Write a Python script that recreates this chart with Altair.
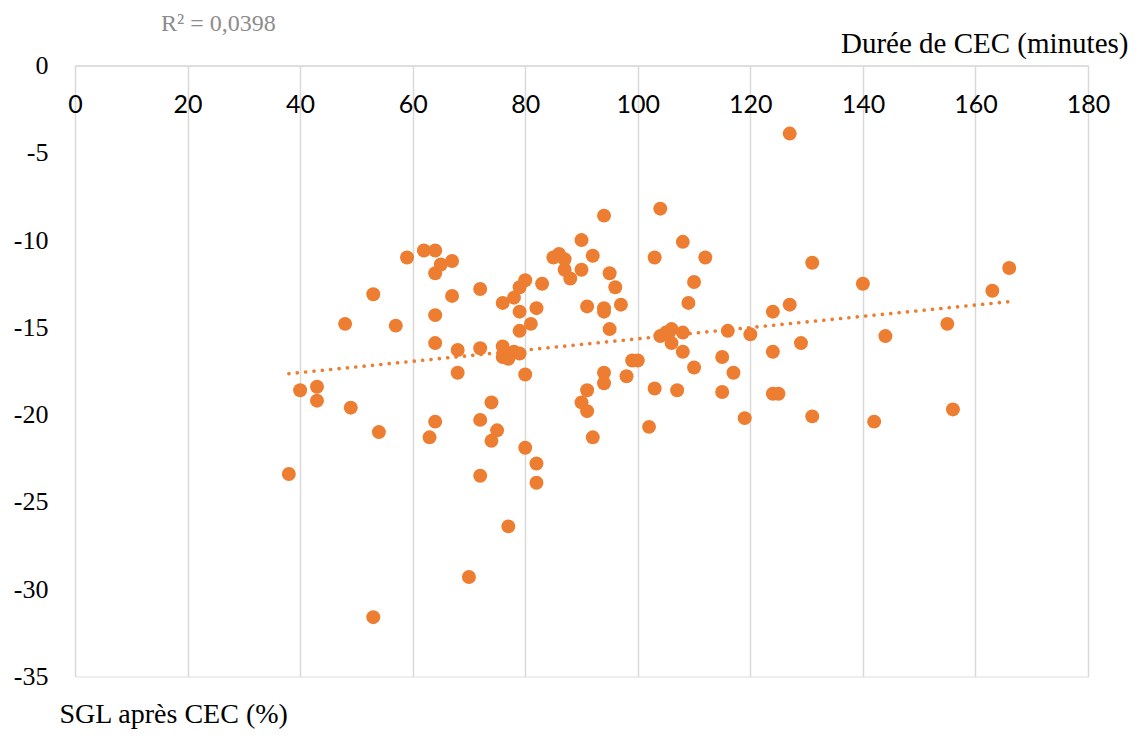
import altair as alt
import pandas as pd

# Durée de CEC (minutes)
duree = [38, 40, 43, 43, 48, 49, 53, 53, 54, 57,
         59, 62, 63, 64, 64, 65, 67, 64, 64, 64,
         67, 68, 68, 70, 72, 72, 72, 72, 74, 74,
         75, 76, 76, 76, 77, 77, 78, 78, 79, 79,
         79, 79, 80, 80, 80, 81, 82, 82, 82, 83,
         85, 86, 87, 87, 88, 90, 90, 90, 91, 91,
         91, 92, 92, 94, 94, 94, 94, 94, 95, 95,
         96, 97, 98, 99, 100, 102, 103, 103, 104, 104,
         105, 106, 106, 107, 108, 108, 108, 109, 110, 110,
         112, 115, 115, 116, 117, 119, 120, 124, 124, 124,
         125, 127, 127, 129, 131, 131, 140, 142, 144, 155,
         156, 163, 166]

# SGL après CEC (%)
sgl = [-23.4, -18.6, -18.4, -19.2, -14.8, -19.6, -13.1, -31.6, -21.0, -14.9,
       -11.0, -10.6, -21.3, -10.6, -11.9, -11.4, -11.2, -14.3, -15.9, -20.4,
       -13.2, -16.3, -17.6, -29.3, -12.8, -16.2, -20.3, -23.5, -19.3, -21.5,
       -20.9, -13.6, -16.1, -16.7, -26.4, -16.8, -13.3, -16.4, -12.7, -14.1,
       -15.2, -16.5, -12.3, -17.7, -21.9, -14.8, -13.9, -22.8, -23.9, -12.5,
       -11.0, -10.8, -11.1, -11.7, -12.2, -10.0, -11.7, -19.3, -13.8, -18.6,
       -19.8, -10.9, -21.3, -8.6, -13.9, -14.1, -17.6, -18.2, -11.9, -15.1,
       -12.7, -13.7, -17.8, -16.9, -16.9, -20.7, -11.0, -18.5, -8.2, -15.5,
       -15.3, -15.9, -15.1, -18.6, -10.1, -15.3, -16.4, -13.6, -12.4, -17.3,
       -11.0, -16.7, -18.7, -15.2, -17.6, -20.2, -15.4, -14.1, -16.4, -18.8,
       -18.8, -3.9, -13.7, -15.9, -11.3, -20.1, -12.5, -20.4, -15.5, -14.8,
       -19.7, -12.9, -11.6]

x_ticks = [0, 20, 40, 60, 80, 100, 120, 140, 160, 180]
y_ticks = [-35, -30, -25, -20, -15, -10, -5, 0]
r2_label = ["R² = 0,0398"]

ORANGE = "#ED7D31"
GRID = "#d9d9d9"

df = pd.DataFrame({"duree": duree, "sgl": sgl})

x_enc = alt.X(
    "duree:Q",
    scale=alt.Scale(domain=[0, 180], nice=False, zero=False),
    axis=alt.Axis(
        orient="top",
        values=x_ticks,
        ticks=False,
        domain=True,
        domainColor=GRID,
        domainWidth=1.5,
        grid=True,
        gridColor=GRID,
        gridWidth=1.5,
        labelFont="Lato",
        labelFontSize=25,
        labelColor="#000000",
        labelPadding=-47,
        labelBaseline="alphabetic",
        labelFlush=False,
        labelOverlap=False,
        title="Durée de CEC (minutes)",
        titleFont="Liberation Serif",
        titleFontSize=29,
        titleFontWeight="normal",
        titleColor="#000000",
        titleAngle=0,
        titleAlign="right",
        titleBaseline="alphabetic",
        titleX=1053,
        titleY=-13.5,
    ),
)

y_enc = alt.Y(
    "sgl:Q",
    scale=alt.Scale(domain=[-35, 0], nice=False, zero=False),
    axis=alt.Axis(
        orient="left",
        values=y_ticks,
        ticks=False,
        domain=False,
        grid=False,
        labelExpr="'' + datum.value",
        labelFont="Liberation Serif",
        labelFontSize=26,
        labelColor="#000000",
        labelPadding=27,
        labelOverlap=False,
        labelFlush=False,
        title="SGL après CEC (%)",
        titleFont="Liberation Serif",
        titleFontSize=28,
        titleFontWeight="normal",
        titleColor="#000000",
        titleAngle=0,
        titleAlign="left",
        titleBaseline="alphabetic",
        titleX=-16,
        titleY=657,
    ),
)

base = alt.Chart(df)

points = base.mark_circle(size=195, color=ORANGE, opacity=1).encode(x=x_enc, y=y_enc)

trend = base.transform_regression("duree", "sgl").mark_line(
    color=ORANGE, strokeWidth=3.6, strokeDash=[0.1, 8.3], strokeCap="round"
).encode(x="duree:Q", y="sgl:Q")

r2 = alt.Chart(pd.DataFrame({"t": r2_label})).mark_text(
    font="Liberation Serif", fontSize=24, color="#8c8c8c", align="left", baseline="alphabetic"
).encode(text="t:N", x=alt.value(86), y=alt.value(-34.5))

chart = (
    alt.layer(trend, points, r2)
    .properties(
        width=1013,
        height=611,
        autosize=alt.AutoSizeParams(type="none"),
        padding={"left": 67, "top": 57.5, "right": 45, "bottom": 57},
    )
    .configure_view(stroke=None)
    .configure(background="white")
)

chart.save("out.html", embed_options={"renderer": "svg", "actions": False})
